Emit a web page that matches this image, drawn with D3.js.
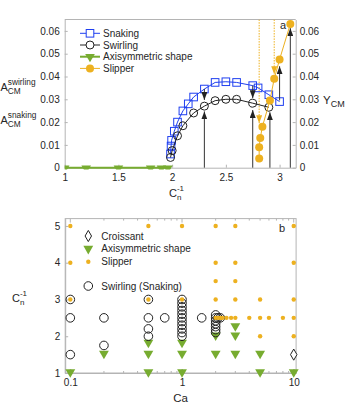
<!DOCTYPE html>
<html>
<head>
<meta charset="utf-8">
<script src="https://cdn.jsdelivr.net/npm/d3@7"></script>
<style>
body{margin:0;background:#fff}
text{font-family:"Liberation Sans",Arial,sans-serif;fill:#262626}
</style>
</head>
<body>
<div id="chart"></div>
<script>
/****************************** panel a data *********************************/
var snaking = [[1.985,0.006],[1.99,0.0095],[1.995,0.012],[2.02,0.016],[2.05,0.020],[2.1,0.0249],[2.15,0.028],[2.2,0.031],
	[2.3,0.0345],[2.4,0.0374],[2.5,0.0377],[2.6,0.0374],[2.75,0.036],[2.8,0.035],[2.9,0.032],[3.0,0.029]];
var swirling = [[1.985,0.0045],[2.0,0.0075],[2.05,0.014],[2.1,0.0184],[2.2,0.024],[2.3,0.027],[2.4,0.0294],
	[2.5,0.030],[2.6,0.030],[2.75,0.0283],[2.9,0.0265]];
var axisym = [[1.0,0],[1.2,0],[1.5,0],[1.8,0],[1.9,0],[1.96,0]];
var slipper = [[2.81,0.004],[2.81,0.009],[2.82,0.013],[2.84,0.018],[2.91,0.0295],[2.95,0.039],[3.0,0.0475],[3.1,0.063]];
// arrows: [x, from, to]
var blackArrows = [[2.3,0,0.0247],[2.3,0.0345,0.0297],[2.75,0,0.0253],[2.75,0.036,0.0305],[2.91,0,0.0243],[3.0,0.0295,0.0445],[3.1,0,0.0612]];
var orangeArrows = [[2.81,0.065,0.0195],[2.95,0.065,0.041]];
var xTicksA = [1,1.5,2,2.5,3];
var yTicksA = [0,0.01,0.02,0.03,0.04,0.05,0.06];
var legendA = ["Snaking","Swirling","Axisymmetric shape","Slipper"];

/****************************** panel b data *********************************/
var slipperB = [[0.1,5],[0.1,4],[0.1,3],[0.5,5],[0.5,3],[1,5],[1,3],
	[2,5],[2,4],[2,3.5],[2,3],[2,2.5],[2.1,2.5],[2.2,2.5],[2.3,2.5],[2.5,2.5],[2.75,2.5],
	[3,5],[3,4],[3,3.5],[3,3],[3,2.5],[4,2.5],[5,3],[5,2.5],[5,2],[6,2.5],[8,2.5],
	[10,5],[10,4],[10,3],[10,2.5],[10,2]];
var swirlingB = [[0.1,3],[0.1,2.5],[0.1,1.5],[0.2,2.5],[0.2,1.75],[0.5,3],[0.5,2.5],[0.5,2.2],[0.5,2.0],[0.7,2.5],
	[1,3.0],[1,2.9],[1,2.8],[1,2.7],[1,2.6],[1,2.5],[1,2.4],[1,2.3],[1,2.2],[1,2.1],[1,2.0],[1.5,2.5],
	[2,2.58],[2,2.5],[2,2.42],[2,2.34],[2,2.26],[2,2.18],[2,2.1],[2.1,2.5],[2.2,2.5]];
var axisymB = [[0.1,1],[0.2,1.5],[0.5,1.8],[0.5,1.5],[0.5,1],[1,1.8],[1,1.5],[1,1],
	[2,2.0],[2,1.5],[3,2.25],[3,2.0],[3,1.5],[5,1.5],[5,1],[10,1]];
var croissantB = [[10,1.5]];
var xTicksB = [0.1,1,10];
var xMinorB = [0.2,0.3,0.4,0.5,0.6,0.7,0.8,0.9,2,3,4,5,6,7,8,9];
var yTicksB = [1,2,3,4,5];

var BLUE = "#1f3ff0", GREEN = "#77ac30", ORANGE = "#edb120", GRID = "#b4b4b4", INK = "#262626";

var svg = d3.select("#chart").append("svg")
	.attr("width", 346)
	.attr("height", 414)
	.style("background-color", "white");

var defs = svg.append("defs");
function arrowMarker(id, col){
	defs.append("marker")
		.attr("id", id)
		.attr("viewBox", "0 -3 8 6")
		.attr("refX", 8).attr("refY", 0)
		.attr("markerWidth", 8).attr("markerHeight", 6)
		.attr("markerUnits", "userSpaceOnUse")
		.attr("orient", "auto")
		.append("path").attr("d", "M0,-3L8,0L0,3Z").style("fill", col);
}
arrowMarker("ah-black", "#222");
arrowMarker("ah-orange", ORANGE);

function downTri(size){ return d3.symbol().type(d3.symbolTriangle).size(size)(); }

/******************************** panel a *************************************/
var xa = d3.scaleLinear().domain([1, 3.15]).range([64.7, 295.7]);
var ya = d3.scaleLinear().domain([0, 0.065]).range([167.7, 19.5]);

defs.append("clipPath").attr("id", "clipA").append("rect")
	.attr("x", xa.range()[0]).attr("y", ya.range()[1])
	.attr("width", xa.range()[1] - xa.range()[0]).attr("height", 150);

var ga = svg.append("g");

function styleAxis(g){
	g.selectAll(".domain").style("stroke", GRID);
	g.selectAll(".tick line").style("stroke", GRID);
	g.selectAll(".tick text").style("font-size", "10px").style("fill", INK).style("font-family", '"Liberation Sans",Arial,sans-serif');
}

ga.append("g").attr("transform", "translate(0," + ya(0) + ")")
	.call(d3.axisBottom(xa).tickValues(xTicksA).tickFormat(d3.format("")).tickSizeInner(-3).tickSizeOuter(0).tickPadding(6))
	.call(styleAxis);
ga.append("g").attr("transform", "translate(" + xa.range()[0] + ",0)")
	.call(d3.axisLeft(ya).tickValues(yTicksA).tickFormat(d3.format("")).tickSizeInner(-3).tickSizeOuter(0).tickPadding(5))
	.call(styleAxis);
ga.append("g").attr("transform", "translate(" + xa.range()[1] + ",0)")
	.call(d3.axisRight(ya).tickValues(yTicksA).tickFormat(d3.format("")).tickSizeInner(-3).tickSizeOuter(0).tickPadding(4))
	.call(styleAxis);
ga.append("line")
	.attr("x1", xa.range()[0]).attr("x2", xa.range()[1])
	.attr("y1", ya.range()[1]).attr("y2", ya.range()[1])
	.style("stroke", GRID);

var pa = ga.append("g").attr("clip-path", "url(#clipA)");
var line = d3.line().x(function(d){ return xa(d[0]); }).y(function(d){ return ya(d[1]); });

// axisymmetric
pa.append("path").attr("d", line(axisym)).style("fill", "none").style("stroke", GREEN).style("stroke-width", 2);
pa.selectAll(".axi").data(axisym).enter().append("path")
	.attr("d", downTri(40))
	.attr("transform", function(d){ return "translate(" + xa(d[0]) + "," + (ya(d[1]) + 0.5) + ") rotate(180)"; })
	.style("fill", GREEN);

// orange dotted arrows
pa.selectAll(".oarr").data(orangeArrows).enter().append("line")
	.attr("x1", function(d){ return xa(d[0]); }).attr("x2", function(d){ return xa(d[0]); })
	.attr("y1", function(d){ return ya(d[1]); }).attr("y2", function(d){ return ya(d[2]); })
	.style("stroke", ORANGE).style("stroke-width", 1).style("stroke-dasharray", "1.5,1.2")
	.attr("marker-end", "url(#ah-orange)");

// snaking
pa.append("path").attr("d", line(snaking)).style("fill", "none").style("stroke", BLUE).style("stroke-width", 1);
pa.selectAll(".sq").data(snaking).enter().append("rect")
	.attr("x", function(d){ return xa(d[0]) - 3.8; }).attr("y", function(d){ return ya(d[1]) - 3.8; })
	.attr("width", 7.6).attr("height", 7.6)
	.style("fill", "none").style("stroke", BLUE).style("stroke-width", 1);

// swirling
pa.append("path").attr("d", line(swirling)).style("fill", "none").style("stroke", "#222").style("stroke-width", 1);
pa.selectAll(".ci").data(swirling).enter().append("circle")
	.attr("cx", function(d){ return xa(d[0]); }).attr("cy", function(d){ return ya(d[1]); })
	.attr("r", 4)
	.style("fill", "none").style("stroke", "#222").style("stroke-width", 1);

// black arrows
pa.selectAll(".barr").data(blackArrows).enter().append("line")
	.attr("x1", function(d){ return xa(d[0]); }).attr("x2", function(d){ return xa(d[0]); })
	.attr("y1", function(d){ return ya(d[1]); }).attr("y2", function(d){ return ya(d[2]); })
	.style("stroke", "#333").style("stroke-width", 1)
	.attr("marker-end", "url(#ah-black)");

// slipper
pa.append("path").attr("d", line(slipper)).style("fill", "none").style("stroke", ORANGE).style("stroke-width", 1);
pa.selectAll(".sl").data(slipper).enter().append("circle")
	.attr("cx", function(d){ return xa(d[0]); }).attr("cy", function(d){ return ya(d[1]); })
	.attr("r", 4).style("fill", ORANGE);

// legend a
var la = ga.append("g").attr("transform", "translate(80,33.3)");
legendA.forEach(function(name, i){
	var g = la.append("g").attr("transform", "translate(0," + (i * 11.7) + ")");
	var col = [BLUE, "#222", GREEN, ORANGE][i];
	g.append("line").attr("x1", 0).attr("x2", 20).style("stroke", col).style("stroke-width", i == 2 ? 2 : 1);
	if(i == 0) g.append("rect").attr("x", 6.2).attr("y", -3.8).attr("width", 7.6).attr("height", 7.6).style("fill", "white").style("stroke", col);
	if(i == 1) g.append("circle").attr("cx", 10).attr("r", 4).style("fill", "white").style("stroke", col);
	if(i == 2) g.append("path").attr("d", downTri(40)).attr("transform", "translate(10,0) rotate(180)").style("fill", col);
	if(i == 3) g.append("circle").attr("cx", 10).attr("r", 4).style("fill", col);
	g.append("text").attr("x", 23).attr("y", 3.6).style("font-size", "10px").text(name);
});

ga.append("text").attr("x", 280).attr("y", 29).style("font-size", "11px").text("a");

// axis titles a
function subsup(g, x, y, base, sup, sub, fs, fss){
	g.append("text").attr("x", x).attr("y", y).style("font-size", fs + "px").text(base);
	var w = base == "C" ? fs * 0.722 : fs * 0.667;
	if(sup) g.append("text").attr("x", x + w).attr("y", y - fs * 0.55).style("font-size", fss + "px").text(sup);
	if(sub) g.append("text").attr("x", x + w).attr("y", y + fs * 0.3).style("font-size", fss + "px").text(sub);
}
subsup(ga, 0.5, 91, "A", "swirling", "CM", 11, 8.3);
subsup(ga, 0.5, 124, "A", "snaking", "CM", 11, 8.3);
subsup(ga, 323, 104, "Y", null, "CM", 11.5, 9);
subsup(ga, 169, 197, "C", "-1", "n", 11, 8);

/******************************** panel b *************************************/
var xb = d3.scaleLog().domain([0.09, 10.5]).range([65.2, 296.1]);
var yb = d3.scaleLinear().domain([1, 5.2]).range([373, 218.6]);
var gb = svg.append("g");

gb.append("rect")
	.attr("x", xb.range()[0]).attr("y", yb.range()[1])
	.attr("width", xb.range()[1] - xb.range()[0]).attr("height", yb.range()[0] - yb.range()[1])
	.style("fill", "none").style("stroke", GRID);

gb.append("g").attr("transform", "translate(0," + yb(1) + ")")
	.call(d3.axisBottom(xb).tickValues(xTicksB).tickFormat(d3.format("")).tickSizeInner(-4).tickSizeOuter(0).tickPadding(6))
	.call(styleAxis);
gb.append("g").attr("transform", "translate(" + xb.range()[0] + ",0)")
	.call(d3.axisLeft(yb).tickValues(yTicksB).tickFormat(d3.format("")).tickSizeInner(-3).tickSizeOuter(0).tickPadding(5))
	.call(styleAxis);
// minor + top ticks
var allX = xTicksB.concat(xMinorB);
gb.selectAll(".mtb").data(allX).enter().append("line")
	.attr("x1", function(d){ return xb(d); }).attr("x2", function(d){ return xb(d); })
	.attr("y1", yb.range()[0]).attr("y2", function(d){ return yb.range()[0] - (xTicksB.indexOf(d) >= 0 ? 4 : 2); })
	.style("stroke", GRID);
gb.selectAll(".mtt").data(allX).enter().append("line")
	.attr("x1", function(d){ return xb(d); }).attr("x2", function(d){ return xb(d); })
	.attr("y1", yb.range()[1]).attr("y2", function(d){ return yb.range()[1] + (xTicksB.indexOf(d) >= 0 ? 4 : 2); })
	.style("stroke", GRID);
gb.selectAll(".ytr").data(yTicksB).enter().append("line")
	.attr("x1", xb.range()[1]).attr("x2", xb.range()[1] - 3)
	.attr("y1", function(d){ return yb(d); }).attr("y2", function(d){ return yb(d); })
	.style("stroke", GRID);

gb.selectAll(".tb").data(axisymB).enter().append("path")
	.attr("d", downTri(42))
	.attr("transform", function(d){ return "translate(" + xb(d[0]) + "," + (yb(d[1]) - 1) + ") rotate(180)"; })
	.style("fill", GREEN);
gb.selectAll(".cb").data(swirlingB).enter().append("circle")
	.attr("cx", function(d){ return xb(d[0]); }).attr("cy", function(d){ return yb(d[1]); })
	.attr("r", 4.3)
	.style("fill", "none").style("stroke", "#222").style("stroke-width", 1);
gb.selectAll(".sb").data(slipperB).enter().append("circle")
	.attr("cx", function(d){ return xb(d[0]); }).attr("cy", function(d){ return yb(d[1]); })
	.attr("r", 2.2).style("fill", ORANGE);
gb.selectAll(".db").data(croissantB).enter().append("path")
	.attr("d", d3.symbol().type(d3.symbolDiamond).size(36)())
	.attr("transform", function(d){ return "translate(" + xb(d[0]) + "," + yb(d[1]) + ")"; })
	.style("fill", "white").style("stroke", "#222").style("stroke-width", 1);

// legend b
var lb = gb.append("g").attr("transform", "translate(88.3,236)");
var lbItems = [["Croissant", 0], ["Axisymmetric shape", 12.7], ["Slipper", 25.7], ["Swirling (Snaking)", 50]];
lbItems.forEach(function(it, i){
	var g = lb.append("g").attr("transform", "translate(0," + it[1] + ")");
	if(i == 0) g.append("path").attr("d", d3.symbol().type(d3.symbolDiamond).size(36)()).style("fill", "white").style("stroke", "#222");
	if(i == 1) g.append("path").attr("d", downTri(42)).attr("transform", "rotate(180)").style("fill", GREEN);
	if(i == 2) g.append("circle").attr("r", 2.2).style("fill", ORANGE);
	if(i == 3) g.append("circle").attr("r", 4.3).style("fill", "none").style("stroke", "#222");
	g.append("text").attr("x", 13).attr("y", 3.6).style("font-size", "10px").text(it[0]);
});

gb.append("text").attr("x", 279).attr("y", 232).style("font-size", "11px").text("b");
gb.append("text").attr("x", 180.5).attr("y", 402).attr("text-anchor", "middle").style("font-size", "11.5px").text("Ca");
subsup(gb, 12, 302, "C", "-1", "n", 11, 8);
</script>
</body>
</html>
